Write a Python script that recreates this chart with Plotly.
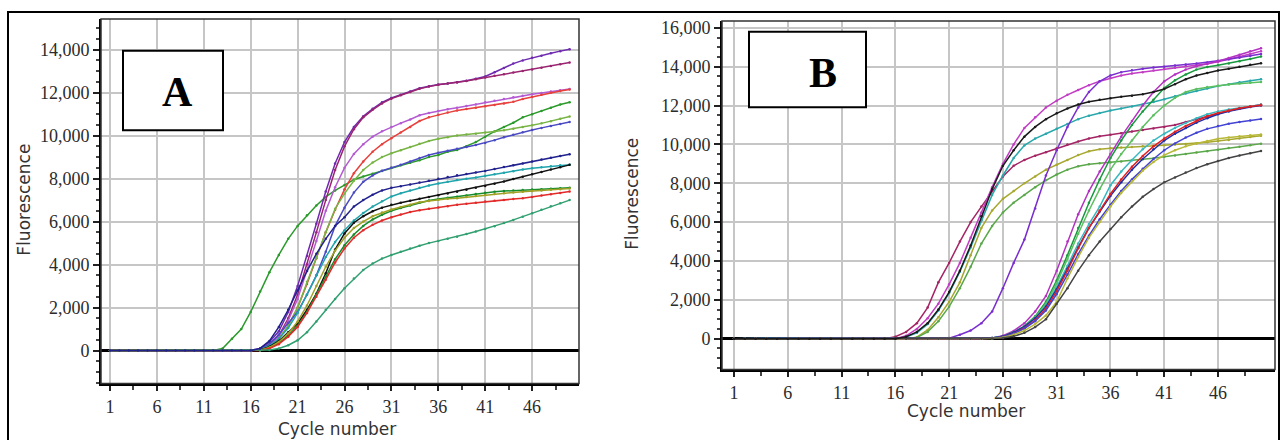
import plotly.graph_objects as go

W, H = 1281, 440

cycles = list(range(1, 51))

# ---------------- Panel A data ----------------
a_early_green = [0,0,0,0,0,0,0,0,0,0,0,0,
    100,550,1000,1800,2750,3650,4450,5200,5800,6300,6750,7150,7450,7700,7950,8100,8230,8350,
    8500,8620,8740,8850,9000,9100,9250,9330,9500,9700,9950,10200,10400,10600,10850,11000,11150,11300,11450,11550]
a_purple = [0,0,0,0,0,0,0,0,0,0,0,0,0,0,0,0,
    100,400,900,1800,3000,4400,5900,7400,8700,9700,10400,10900,11250,11550,11750,11900,12050,12200,12300,
    12380,12420,12480,12550,12650,12750,12950,13150,13350,13500,13620,13720,13830,13930,14020]
a_dmagenta = [0,0,0,0,0,0,0,0,0,0,0,0,0,0,0,0,
    60,300,700,1500,2600,4000,5500,7000,8400,9500,10300,10850,11200,11500,11720,11880,12030,12180,12280,
    12370,12420,12470,12540,12620,12700,12780,12860,12940,13010,13080,13160,13240,13320,13400]
a_orchid = [0,0,0,0,0,0,0,0,0,0,0,0,0,0,0,0,
    50,250,650,1400,2400,3700,5100,6500,7600,8500,9150,9600,9950,10200,10400,10580,10750,10950,11050,
    11150,11230,11300,11380,11450,11550,11620,11700,11780,11860,11920,11980,12050,12110,12170]
a_red = [0,0,0,0,0,0,0,0,0,0,0,0,0,0,0,0,
    30,200,550,1150,2000,3100,4300,5500,6550,7500,8250,8800,9250,9600,9880,10150,10400,10680,10850,
    10970,11070,11170,11240,11300,11370,11430,11500,11570,11700,11800,11900,12000,12080,12150]
a_yellowgreen = [0,0,0,0,0,0,0,0,0,0,0,0,0,0,0,0,
    40,200,550,1150,2000,3200,4300,5500,6600,7300,7900,8400,8750,9000,9180,9320,9470,9620,9750,
    9850,9930,10010,10050,10090,10140,10190,10250,10320,10400,10480,10570,10670,10780,10890]
a_slateblue = [0,0,0,0,0,0,0,0,0,0,0,0,0,0,0,0,
    60,300,750,1300,1800,2600,3500,4600,5800,6650,7350,7850,8150,8370,8500,8640,8800,8960,9100,
    9200,9300,9390,9470,9560,9660,9790,9920,10040,10160,10260,10360,10450,10540,10630]
a_blue = [0,0,0,0,0,0,0,0,0,0,0,0,0,0,0,0,
    100,450,1100,1900,2800,3700,4500,5200,5800,6200,6700,7000,7250,7450,7570,7650,7730,7820,7900,
    7990,8070,8160,8220,8290,8360,8450,8540,8620,8700,8800,8890,8970,9050,9130]
a_teal = [0,0,0,0,0,0,0,0,0,0,0,0,0,0,0,0,
    40,220,550,1050,1750,2600,3500,4350,5050,5600,6050,6400,6700,6950,7170,7320,7450,7580,7680,
    7770,7850,7930,7990,8050,8130,8200,8270,8340,8420,8480,8530,8580,8620,8650]
a_black = [0,0,0,0,0,0,0,0,0,0,0,0,0,0,0,0,
    30,180,450,850,1250,1900,2650,3600,4700,5450,5950,6250,6480,6650,6780,6880,6970,7060,7150,
    7230,7310,7390,7480,7570,7660,7760,7870,7980,8090,8200,8310,8420,8530,8640]
a_green = [0,0,0,0,0,0,0,0,0,0,0,0,0,0,0,0,
    20,120,350,700,1150,1800,2600,3450,4250,4900,5400,5800,6100,6320,6500,6630,6750,6880,6980,
    7050,7110,7160,7220,7280,7340,7390,7420,7450,7470,7490,7510,7530,7550,7570]
a_olive = [0,0,0,0,0,0,0,0,0,0,0,0,0,0,0,0,
    20,150,400,800,1350,2100,3000,3900,4650,5250,5700,6000,6250,6420,6560,6680,6790,6900,6960,
    7020,7060,7090,7140,7190,7240,7280,7320,7360,7390,7420,7450,7480,7510,7540]
a_red2 = [0,0,0,0,0,0,0,0,0,0,0,0,0,0,0,0,
    10,100,300,650,1100,1750,2500,3300,4100,4750,5250,5600,5850,6050,6200,6330,6450,6530,6600,
    6660,6720,6780,6830,6880,6930,6970,7010,7050,7090,7150,7210,7270,7330,7400]
a_seagreen = [0,0,0,0,0,0,0,0,0,0,0,0,0,0,0,0,0,
    30,100,250,480,850,1350,1900,2400,2900,3350,3750,4050,4280,4450,4600,4750,4880,5000,
    5100,5200,5300,5420,5540,5660,5790,5930,6080,6230,6390,6550,6710,6860,7000]

# ---------------- Panel B data ----------------
b_raspberry = [0,0,0,0,0,0,0,0,0,0,0,0,0,0,0,
    100,350,800,1600,2900,3900,5000,6000,6800,7600,8350,8900,9200,9420,9600,9800,10000,10150,10300,10420,
    10500,10580,10660,10740,10820,10900,11000,11150,11300,11450,11600,11720,11850,11950,12050]
b_magenta = [0,0,0,0,0,0,0,0,0,0,0,0,0,0,0,0,
    150,500,1050,1800,2800,3900,5200,6500,7800,9000,10000,10850,11400,11900,12250,12550,12800,13050,13250,
    13420,13550,13650,13720,13800,13880,13950,14020,14080,14150,14250,14380,14500,14650,14800]
b_black = [0,0,0,0,0,0,0,0,0,0,0,0,0,0,0,0,
    100,350,800,1500,2400,3500,4800,6300,7700,8900,9700,10400,10900,11300,11600,11850,12050,12200,12300,
    12380,12450,12500,12580,12700,12850,13100,13350,13550,13680,13800,13900,14000,14100,14180]
b_teal = [0,0,0,0,0,0,0,0,0,0,0,0,0,0,0,0,
    80,300,750,1450,2350,3450,4700,6100,7400,8400,9300,9950,10300,10550,10800,11050,11300,11480,11620,
    11750,11850,11950,12050,12180,12320,12480,12620,12750,12880,13000,13100,13200,13280,13350]
b_olive = [0,0,0,0,0,0,0,0,0,0,0,0,0,0,0,0,0,
    80,450,1100,1900,2900,4300,5700,6600,7200,7600,8000,8350,8700,8950,9200,9450,9650,9750,
    9800,9840,9870,9900,9930,9960,9990,10020,10060,10110,10170,10230,10300,10380,10450]
b_green = [0,0,0,0,0,0,0,0,0,0,0,0,0,0,0,0,0,
    60,350,900,1650,2600,3700,4900,5800,6500,7000,7400,7800,8150,8450,8700,8880,8980,9030,
    9070,9120,9180,9230,9290,9360,9430,9500,9580,9650,9730,9810,9880,9960,10040]
b_purple = [0,0,0,0,0,0,0,0,0,0,0,0,0,0,0,0,0,0,0,0,
    30,200,420,800,1400,2600,3900,5100,6700,8400,9700,10900,11900,12700,13250,
    13550,13720,13820,13900,13960,14000,14060,14110,14160,14220,14300,14380,14460,14550,14650]
b_magenta2 = [0,0,0,0,0,0,0,0,0,0,0,0,0,0,0,0,0,0,0,0,0,0,0,0,
    40,150,400,800,1400,2200,3500,5000,6400,7600,8600,9500,10400,11200,12000,12700,
    13250,13600,13850,14020,14140,14280,14450,14620,14800,14950]
b_green2 = [0,0,0,0,0,0,0,0,0,0,0,0,0,0,0,0,0,0,0,0,0,0,0,0,
    30,120,330,650,1150,1900,3000,4300,5700,7000,8200,9300,10200,11000,11700,12300,
    12900,13300,13600,13850,13980,14070,14170,14280,14400,14520]
b_lightgreen = [0,0,0,0,0,0,0,0,0,0,0,0,0,0,0,0,0,0,0,0,0,0,0,0,
    20,100,300,600,1100,1800,2850,4100,5400,6600,7700,8700,9500,10200,10900,11500,
    12000,12400,12700,12850,12950,13020,13080,13130,13170,13210]
b_teal2 = [0,0,0,0,0,0,0,0,0,0,0,0,0,0,0,0,0,0,0,0,0,0,0,0,
    30,110,300,600,1050,1700,2650,3750,4900,5900,6800,7900,8600,9200,9750,10200,
    10550,10850,11100,11350,11550,11700,11800,11890,11960,12040]
b_red = [0,0,0,0,0,0,0,0,0,0,0,0,0,0,0,0,0,0,0,0,0,0,0,0,
    20,90,260,550,950,1550,2450,3500,4650,5700,6600,7450,8200,8850,9400,9900,
    10300,10650,10950,11200,11450,11620,11750,11860,11950,12020]
b_blue = [0,0,0,0,0,0,0,0,0,0,0,0,0,0,0,0,0,0,0,0,0,0,0,0,
    30,120,320,620,1050,1650,2550,3600,4700,5700,6550,7350,8050,8700,9250,9750,
    10200,10550,10850,11120,11350,11550,11700,11830,11930,12000]
b_blue2 = [0,0,0,0,0,0,0,0,0,0,0,0,0,0,0,0,0,0,0,0,0,0,0,0,
    20,90,260,520,900,1450,2300,3300,4350,5300,6150,6900,7600,8200,8750,9250,
    9700,10050,10350,10600,10800,10950,11060,11150,11230,11310]
b_olive2 = [0,0,0,0,0,0,0,0,0,0,0,0,0,0,0,0,0,0,0,0,0,0,0,0,
    10,60,200,420,750,1200,1900,3100,4200,5200,6000,6800,7500,8100,8650,9100,
    9450,9700,9900,10050,10180,10290,10360,10420,10470,10510]
b_grey = [0,0,0,0,0,0,0,0,0,0,0,0,0,0,0,0,0,0,0,0,0,0,0,0,0,
    30,120,300,600,1000,1800,2600,3500,4300,5000,5650,6250,6800,7300,7700,
    8050,8300,8550,8780,8980,9150,9300,9430,9550,9660]

x_tick_vals = [1, 6, 11, 16, 21, 26, 31, 36, 41, 46]
x_tick_text = ["1", "6", "11", "16", "21", "26", "31", "36", "41", "46"]
x_title = "Cycle number"
y_title = "Fluorescence"

series_a = [
    (a_early_green, "#2a9a2a"), (a_purple, "#6f2ab0"), (a_dmagenta, "#9a2470"),
    (a_orchid, "#b45ad2"), (a_red, "#e8403c"), (a_yellowgreen, "#78b444"),
    (a_slateblue, "#4a4ac4"), (a_teal, "#20a4ac"), (a_black, "#111111"),
    (a_green, "#168c2c"), (a_olive, "#a0a024"), (a_red2, "#e22a2a"),
    (a_seagreen, "#30a070"), (a_blue, "#22228e"),
]
series_b = [
    (b_raspberry, "#a42464"), (b_magenta, "#c23cc4"), (b_teal, "#28a8ac"),
    (b_olive, "#a8a830"), (b_green, "#5aa84a"), (b_purple, "#7a2ed0"),
    (b_magenta2, "#b432c2"), (b_green2, "#1a9a40"), (b_lightgreen, "#5cbf60"),
    (b_teal2, "#38b8c0"), (b_blue, "#2030a8"), (b_red, "#e02020"),
    (b_blue2, "#4444d4"), (b_olive2, "#b8b838"), (b_grey, "#444444"),
    (b_black, "#1a1a1a"),
]

fig = go.Figure()
for vals, col in series_a:
    fig.add_trace(go.Scatter(x=cycles, y=vals, mode="lines+markers", xaxis="x", yaxis="y",
                             line=dict(color=col, width=1.5), marker=dict(color=col, size=2.5),
                             showlegend=False, hoverinfo="skip"))
for vals, col in series_b:
    fig.add_trace(go.Scatter(x=cycles, y=vals, mode="lines+markers", xaxis="x2", yaxis="y2",
                             line=dict(color=col, width=1.5), marker=dict(color=col, size=2.5),
                             showlegend=False, hoverinfo="skip"))

def px(x):
    return x / W

def py(y):
    return 1 - y / H

tickfont = dict(family="Liberation Serif", size=18, color="#2b2b2b")
grid = "#c6c6c6"

def xaxis_cfg(domain, rng, anchor):
    return dict(domain=domain, range=rng, anchor=anchor, tickmode="array",
                tickvals=x_tick_vals, ticktext=x_tick_text, ticks="outside", ticklen=5,
                tickwidth=1.5, tickcolor="#222", showgrid=True, gridcolor=grid, gridwidth=2,
                showline=True, linecolor="#000", linewidth=3, zeroline=False,
                tickfont=tickfont,
                minor=dict(tickvals=[3.5, 8.5, 13.5, 18.5, 23.5, 28.5, 33.5, 38.5, 43.5, 48.5],
                           ticks="outside", ticklen=4, tickcolor="#444", showgrid=False))

def yaxis_cfg(domain, rng, anchor):
    return dict(domain=domain, range=rng, anchor=anchor, tickmode="linear", tick0=0,
                dtick=2000, tickformat=",d", ticks="outside", ticklen=6, tickwidth=1.5,
                tickcolor="#222", showgrid=True, gridcolor=grid, gridwidth=2,
                showline=True, linecolor="#000", linewidth=2,
                zeroline=True, zerolinecolor="#000", zerolinewidth=2.5,
                tickfont=tickfont,
                minor=dict(dtick=500, tick0=0, ticks="outside", ticklen=3, tickcolor="#444",
                           showgrid=False))

fig.update_layout(
    width=W, height=H, margin=dict(l=0, r=0, t=0, b=0),
    paper_bgcolor="white", plot_bgcolor="white",
    xaxis=xaxis_cfg([px(101), px(579)], [0.04, 51.0], "y"),
    yaxis=yaxis_cfg([py(383), py(16)], [-1525, 15430], "x"),
    xaxis2=xaxis_cfg([px(722), px(1275)], [-0.12, 51.3], "y2"),
    yaxis2=yaxis_cfg([py(369), py(18)], [-1585, 16358], "x2"),
)

shapes = [
    dict(type="rect", xref="paper", yref="paper", x0=px(8), x1=px(1279), y0=-0.2, y1=py(9),
         line=dict(color="#000", width=2), fillcolor="rgba(0,0,0,0)", layer="above"),
    dict(type="rect", xref="x domain", yref="y domain", x0=0, x1=1, y0=0, y1=1,
         line=dict(color="#333", width=1.5), layer="above"),
    dict(type="rect", xref="x2 domain", yref="y2 domain", x0=0, x1=1, y0=0, y1=1,
         line=dict(color="#333", width=1.5), layer="above"),
    dict(type="rect", xref="paper", yref="paper", x0=px(123), x1=px(223), y0=py(128), y1=py(48),
         line=dict(color="#000", width=2), fillcolor="white", layer="above"),
    dict(type="rect", xref="paper", yref="paper", x0=px(749), x1=px(866), y0=py(105), y1=py(29),
         line=dict(color="#000", width=2), fillcolor="white", layer="above"),
]

title_font = dict(family="DejaVu Sans", size=17, color="#333")

def ann(text, x, y, font, angle=0):
    return dict(text=text, x=px(x), y=py(y), xref="paper", yref="paper", showarrow=False,
                xanchor="center", yanchor="middle", textangle=angle, font=font)

annotations = [
    ann("<b>A</b>", 178, 90, dict(family="Liberation Serif", size=42, color="#000")),
    ann("<b>B</b>", 823, 70, dict(family="Liberation Serif", size=42, color="#000")),
    ann(y_title, 24, 198, title_font, -90),
    ann(y_title, 632, 192, title_font, -90),
    ann(x_title, 337, 429, title_font),
    ann(x_title, 966, 411, title_font),
]
fig.update_layout(shapes=shapes, annotations=annotations)

fig.write_html("out.html", config={"displayModeBar": False},
               post_script="document.body.style.margin='0';document.body.style.overflow='hidden';")
